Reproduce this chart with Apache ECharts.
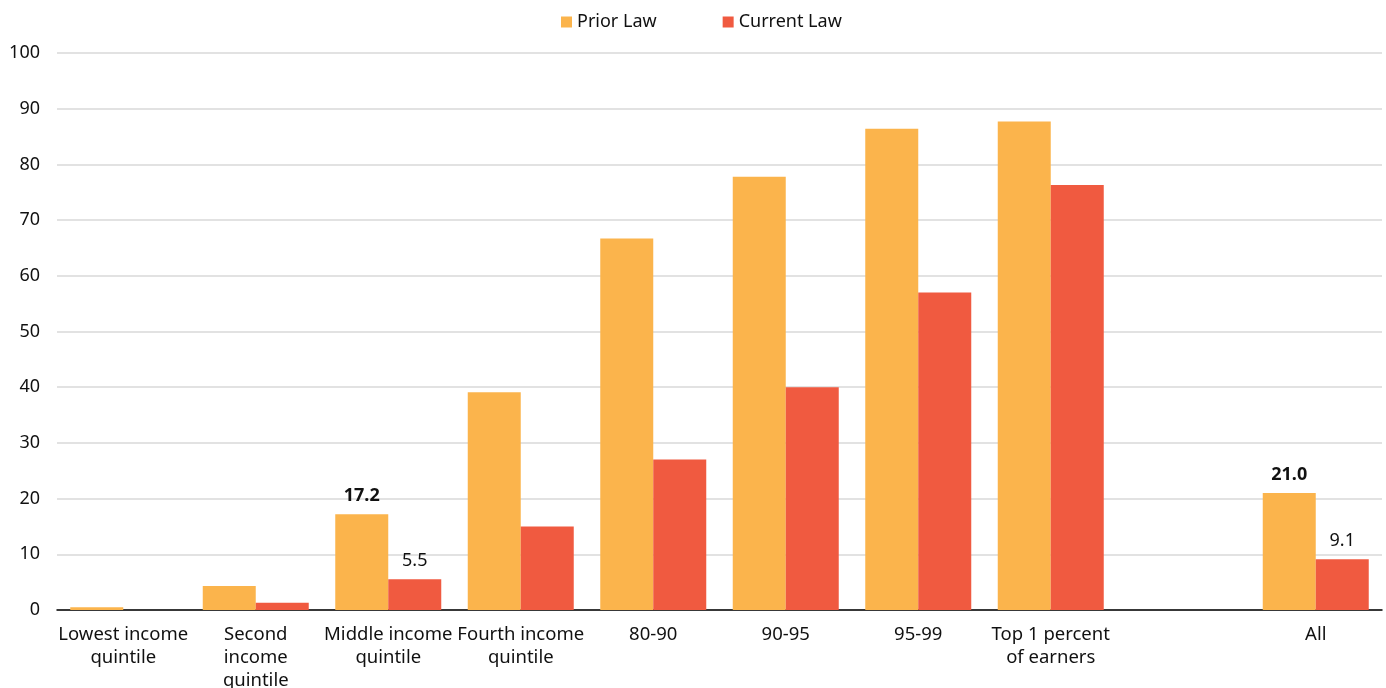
<!DOCTYPE html>
<html><head><meta charset="utf-8">
<script src="https://cdn.jsdelivr.net/npm/echarts@6/dist/echarts.min.js"></script>
<style>html,body{margin:0;padding:0;background:#fff}#c{width:1386px;height:688px}</style>
</head><body><div id="c"></div>
<script>
const categories = ['Lowest income\nquintile','Second\nincome\nquintile','Middle income\nquintile','Fourth income\nquintile','80-90','90-95','95-99','Top 1 percent\nof earners','','All'];
const priorLaw = [0.5, 4.3, 17.2, 39.1, 66.7, 77.8, 86.4, 87.7, null, 21.0];
const currentLaw = [0.0, 1.3, 5.5, 15.0, 27.0, 40.0, 57.0, 76.3, null, 9.1];
const labeledIdx = [2, 9];
const yTicks = {min: 0, max: 100, interval: 10};

const FONT = '"Noto Sans", Lato, sans-serif';
function withLabels(arr, bold) {
  return arr.map((v, i) => labeledIdx.includes(i) ? {
    value: v,
    label: {show: true, position: 'top', distance: 9, formatter: p => p.value.toFixed(1),
      fontSize: 18, fontFamily: FONT, color: '#111', fontWeight: bold ? 'bold' : 'normal'}
  } : v);
}
const chart = echarts.init(document.getElementById('c'), null, {renderer: 'canvas'});
chart.setOption({
  animation: false,
  legend: {
    top: 8, left: 556, itemWidth: 11, itemHeight: 11, itemGap: 66,
    icon: 'rect',
    textStyle: {fontSize: 18, fontFamily: FONT, color: '#111'},
    data: ['Prior Law', 'Current Law']
  },
  grid: {left: 57, right: 4, top: 53, bottom: 78, containLabel: false, outerBoundsMode: 'none'},
  xAxis: {
    type: 'category', data: categories,
    axisLine: {lineStyle: {color: '#000', width: 1.5}},
    axisTick: {show: false},
    axisLabel: {interval: 0, fontSize: 18.5, fontFamily: FONT, color: '#111', margin: 13, lineHeight: 23}
  },
  yAxis: {
    type: 'value', min: yTicks.min, max: yTicks.max, interval: yTicks.interval,
    axisLine: {show: false}, axisTick: {show: false},
    splitLine: {lineStyle: {color: '#d9d9d9', width: 1.5}},
    axisLabel: {fontSize: 18, fontFamily: FONT, color: '#111', margin: 17}
  },
  series: [
    {name: 'Prior Law', type: 'bar', data: withLabels(priorLaw, true), itemStyle: {color: '#FBB44C'}, barGap: '0%', barCategoryGap: '20%'},
    {name: 'Current Law', type: 'bar', data: withLabels(currentLaw, false), itemStyle: {color: '#F05A40'}, barGap: '0%', barCategoryGap: '20%'}
  ]
});
</script></body></html>
